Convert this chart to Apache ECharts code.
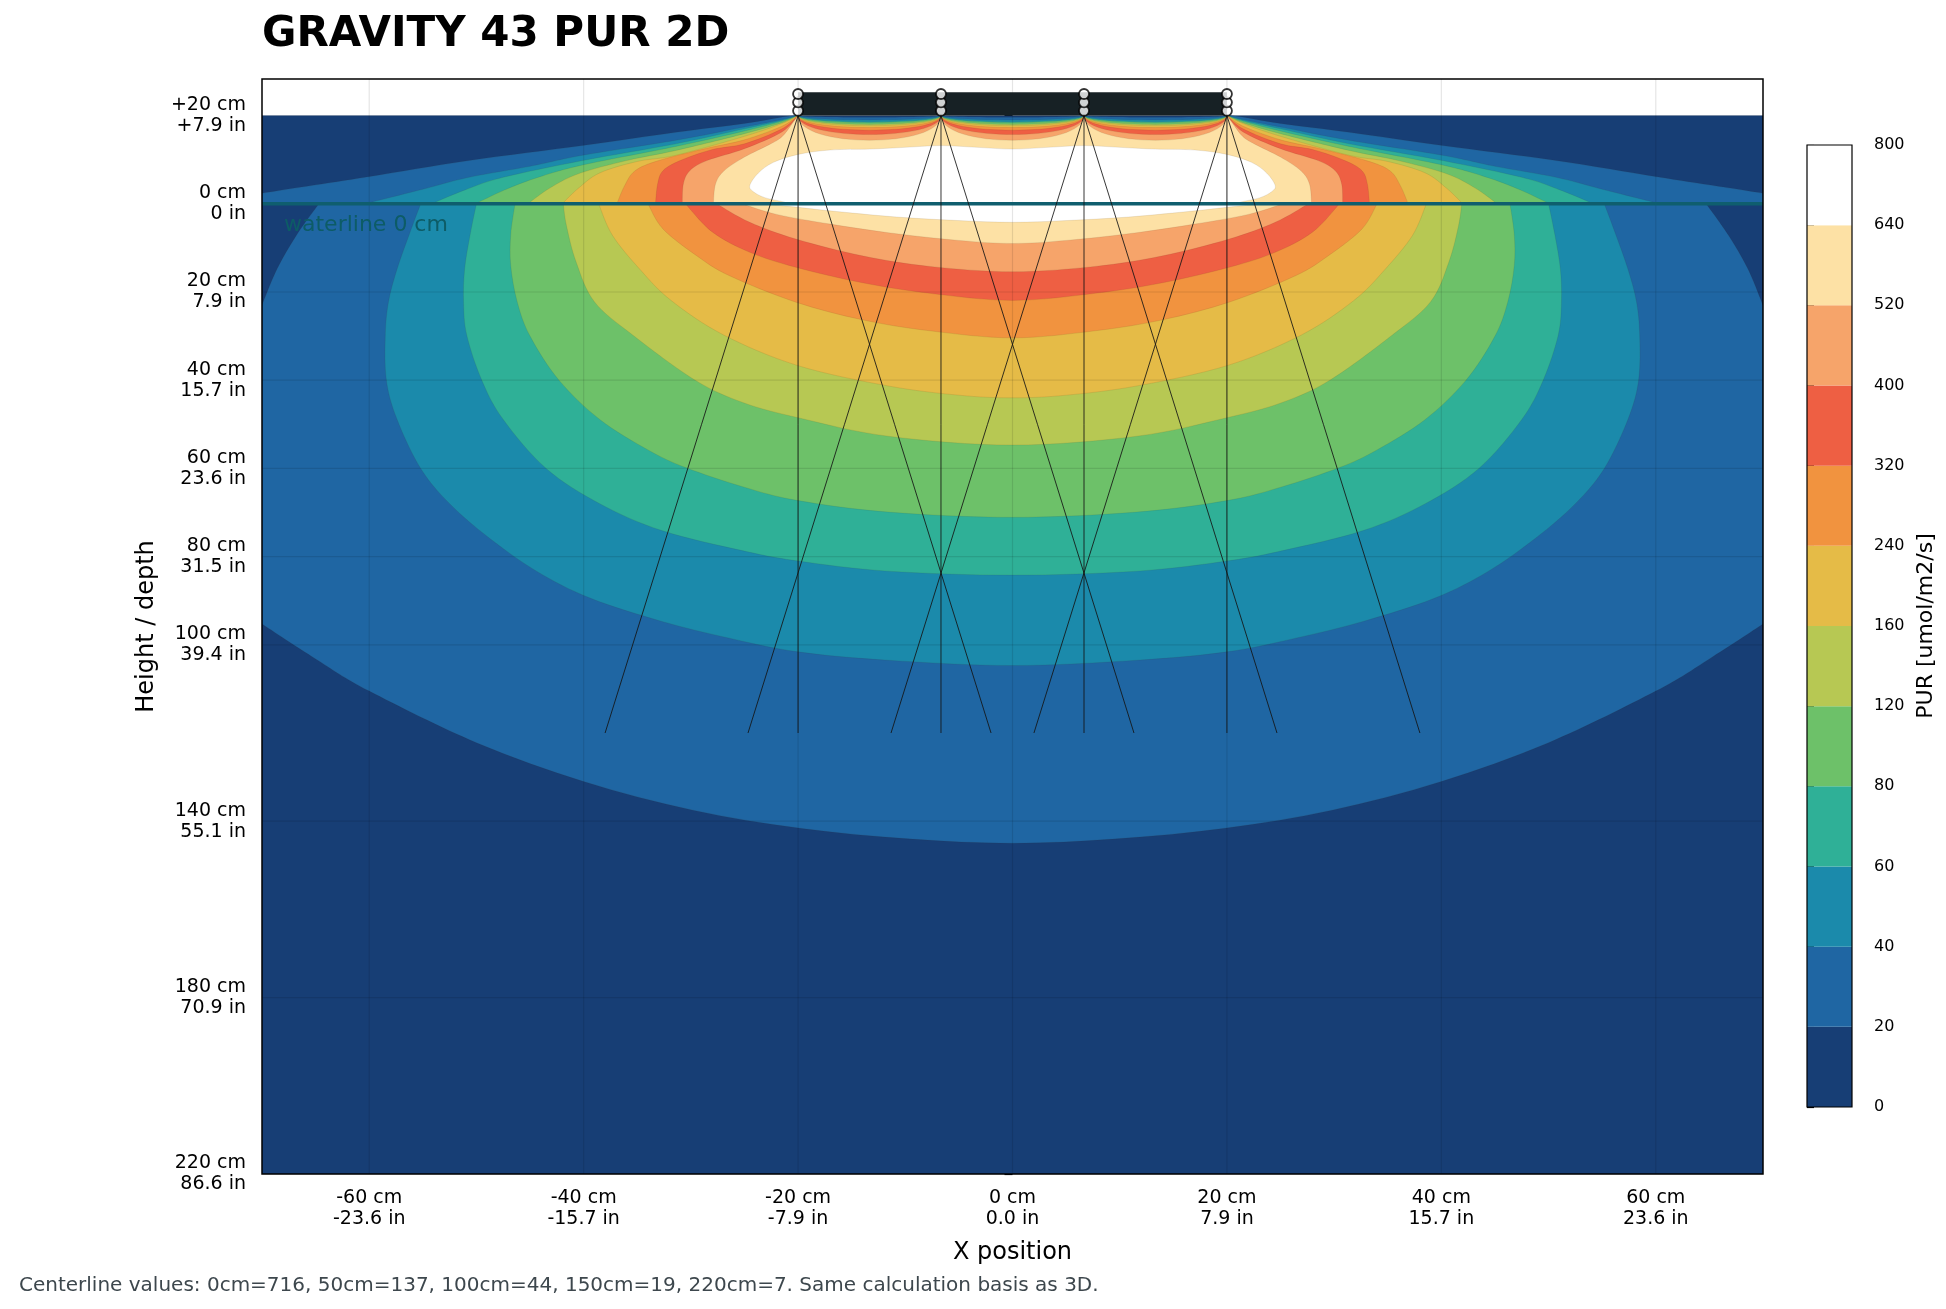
<!DOCTYPE html>
<html>
<head>
<meta charset="utf-8">
<title>GRAVITY 43 PUR 2D</title>
<script src="https://cdn.jsdelivr.net/npm/echarts@6/dist/echarts.min.js"></script>
<style>
  html, body { margin: 0; padding: 0; background: #fff; }
  #chart { width: 1946px; height: 1309px; }
</style>
</head>
<body>
<div id="chart"></div>
<script>
// ticks
var xTicks = [-60, -40, -20, 0, 20, 40, 60];
var yTicks = [20, 0, -20, -40, -60, -80, -100, -140, -180, -220];

// PUR levels of the colour bands, and their colours
var levels = [0, 20, 40, 60, 80, 120, 160, 240, 320, 400, 520, 640, 800];
var bandColors = ['#173e75', '#1f66a3', '#1b8aab', '#2fb097', '#6dc169', '#b7c853',
                  '#e5bb47', '#f1933f', '#ee5f43', '#f6a46a', '#fde1a5', '#ffffff'];

// fixture: four lamps at +20 cm, beam edges reach +-18 cm at -120 cm
var lampX = [-20, -6.67, 6.67, 20];
var lampTop = 20;
var lampMarkY = [21.1, 23.0, 24.9];
var fixtureTop = 25.3;
var beamOffsets = [-18, 0, 18];
var beamEndY = -120;

// contour outlines, left half (x <= 0), [x cm, height cm]
// "Above": from the lamp at -20 down to the waterline, "Below": waterline to centre
var c20Above = [[-21.1, 19.8], [-25, 18.2], [-31.4, 16.2], [-40.1, 13.2], [-50.7, 9.8], [-60.4, 6.0], [-70, 2.4]];
var c20Edge = [[-70, 0]];
var c20Wedge = [[-64.7, 0], [-66.8, -7.2], [-68.6, -14.8], [-70, -23]];
var c20Floor = [[-70, -95.3], [-65, -103.2], [-60, -110.5], [-50, -122.2], [-40, -131],
                [-29.8, -137.5], [-19.8, -141.6], [-9.7, -144], [0, -145]];
var c40Above = [[-21.5, 19.1], [-25, 17.4], [-31.4, 14.4], [-40.1, 11.0], [-45, 8.5], [-50.7, 6.0], [-55, 3.3], [-60.4, 0]];
var c40Below = [[-55.2, 0], [-56.3, -7.2], [-57.4, -14.8], [-58.2, -22.2], [-58.5, -29.8], [-58.4, -40], [-57.4, -48.9],
                [-55.2, -60], [-52.5, -68], [-48.9, -75.6], [-44.4, -83.3], [-39.4, -89.4], [-32.7, -94.7],
                [-26.4, -98.5], [-20, -101.6], [-11.6, -103.5], [0, -104.7]];
var c60Above = [[-21.5, 18.9], [-25, 17.0], [-31.4, 13.6], [-40.1, 9.8], [-47.5, 6.0], [-51, 3.2], [-54.2, 0]];
var c60Below = [[-50, 0], [-50.6, -7.2], [-51.1, -14.8], [-51.2, -22.2], [-50.9, -29.8], [-49.5, -40], [-47.5, -48.9],
                [-43.5, -60], [-38.5, -68], [-32.7, -74.1], [-25.1, -78.7], [-20, -81], [-11.6, -83.3], [0, -84.2]];
var c80Above = [[-21.5, 18.7], [-25, 16.5], [-31.4, 13.0], [-40.1, 8.8], [-44.5, 5.8], [-47.5, 3.0], [-50.1, 0]];
var c80Below = [[-46.4, 0], [-46.8, -7], [-46.8, -14], [-46.2, -22.2], [-45, -30], [-42.3, -40], [-38.5, -48.9],
                [-34, -55.8], [-30.5, -59.8], [-25.1, -64.2], [-20, -67.3], [-11.6, -69.9], [0, -71.1]];
var c120Above = [[-21.5, 18.4], [-25, 15.9], [-31.4, 12.1], [-36, 9.8], [-40.5, 6.8], [-43.2, 3.5], [-45.2, 0]];
var c120Below = [[-41.9, 0], [-41.6, -5], [-40.7, -13.2], [-39, -22.2], [-35.4, -29.8], [-29.6, -40], [-25.1, -45.1],
                 [-20, -48.5], [-11.6, -52.7], [0, -54.7]];
var c160Above = [[-21.5, 18.2], [-25, 15.3], [-31.4, 11.0], [-35, 9.6], [-38.5, 7.0], [-40.5, 3.5], [-42, 0]];
var c160Below = [[-38.6, 0], [-37.3, -7.2], [-34.7, -15], [-31.8, -22], [-26.9, -29.8], [-20, -36.7],
                 [-11.6, -41.3], [-5, -43.4], [0, -44]];
var c240Above = [[-21.5, 17.6], [-25, 14.5], [-28.5, 12.6], [-33, 9.8], [-35.2, 7.5], [-36.2, 4.0], [-36.9, 0]];
var c240Below = [[-34, 0], [-32.6, -5.7], [-29.5, -11.7], [-26.4, -16.3], [-20.2, -22.3], [-14, -26.3], [-7.7, -28.8], [0, -30.4]];
var c320Above = [[-21.5, 17.0], [-25, 13.6], [-28, 12.3], [-31, 9.8], [-32.6, 7.5], [-33.1, 4.5], [-33.3, 0]];
var c320Below = [[-30.5, 0], [-28, -6.4], [-24.5, -11], [-20.2, -14.4], [-14, -17.9], [-7.7, -20.3], [0, -21.9]];
var c400Above = [[-21.5, 16.3], [-25, 12.5], [-28.5, 9.8], [-30.1, 7.5], [-30.7, 4.5], [-30.8, 0]];
var c400Below = [[-27.6, 0], [-24.5, -4.2], [-20.2, -8], [-14, -11.8], [-7.7, -14.2], [0, -15.4]];
var c520Above = [[-20.6, 18], [-21.5, 15.2], [-22.7, 13.4], [-25, 10.6], [-26.9, 7.5], [-27.7, 4.5], [-27.9, 0]];
var c520Below = [[-25.2, 0], [-22, -2.4], [-17, -4.6], [-10.8, -6.8], [-5, -8.3], [0, -9.0]];
// white core: from the centre top round the left tip, then below the waterline
var c640Above = [[0, 12.4], [-3.3, 12.8], [-6.67, 13.2], [-10, 12.8], [-13.3, 12.4], [-17, 12.2], [-20, 11.2],
                 [-22.3, 9.4], [-23.7, 7.0], [-24.5, 4.2], [-24.2, 2.8], [-23.1, 1.4], [-21.3, 0.4], [-21.2, 0]];
var c640Below = [[-23.3, 0], [-20, -0.8], [-17, -1.6], [-10.8, -3.0], [-5, -3.8], [0, -4.2]];
// how far each contour sags below +20 cm between two lamps (20 ... 520)
var topDips = [0.4, 1.0, 1.4, 1.6, 2.0, 2.3, 2.7, 3.3, 4.3, 5.6];

var lamp0 = [lampX[0], lampTop];
var bandRuns = [
    [[lamp0].concat(c20Above), c20Edge, c20Wedge, c20Floor],
    [[lamp0].concat(c40Above), c40Below],
    [[lamp0].concat(c60Above), c60Below],
    [[lamp0].concat(c80Above), c80Below],
    [[lamp0].concat(c120Above), c120Below],
    [[lamp0].concat(c160Above), c160Below],
    [[lamp0].concat(c240Above), c240Below],
    [[lamp0].concat(c320Above), c320Below],
    [[lamp0].concat(c400Above), c400Below],
    [[lamp0].concat(c520Above), c520Below]
];

var FONT = 'DejaVu Sans';

function mirror(pts) {
    return pts.slice().reverse().map(function(p) { return [-p[0], p[1]]; });
}

function f(v) { return v.toFixed(2); }

// one smooth run (Catmull-Rom through the read points), joined to the previous run by a straight line
function runPath(pts, api, first) {
    var p = pts.map(function(q) { return api.coord(q); });
    var s = (first ? 'M' : 'L') + f(p[0][0]) + ' ' + f(p[0][1]) + ' ';
    for (var i = 0; i < p.length - 1; i++) {
        var p0 = p[i - 1] || p[i], p1 = p[i], p2 = p[i + 1], p3 = p[i + 2] || p[i + 1];
        var c1x = p1[0] + (p2[0] - p0[0]) / 6, c1y = p1[1] + (p2[1] - p0[1]) / 6;
        var c2x = p2[0] - (p3[0] - p1[0]) / 6, c2y = p2[1] - (p3[1] - p1[1]) / 6;
        s += 'C' + f(c1x) + ' ' + f(c1y) + ' ' + f(c2x) + ' ' + f(c2y) + ' ' + f(p2[0]) + ' ' + f(p2[1]) + ' ';
    }
    return s;
}

function fullRuns(leftRuns) {
    var head = leftRuns.slice(0, -1);
    var last = leftRuns[leftRuns.length - 1];
    var merged = last.concat(mirror(last).slice(1));
    return head.concat([merged], head.slice().reverse().map(mirror));
}

function depthLabel(v) {
    if (v > 0) return '+' + v + ' cm\n+' + (v / 2.54).toFixed(1) + ' in';
    if (v === 0) return '0 cm\n0 in';
    return (-v) + ' cm\n' + (-v / 2.54).toFixed(1) + ' in';
}

function renderBand(params, api) {
    var k = api.value(2);
    var fill = bandColors[k];
    if (k === 0) {
        var a = api.coord([-70, lampTop]);
        var b = api.coord([70, -220]);
        return { type: 'rect', shape: { x: a[0], y: a[1], width: b[0] - a[0], height: b[1] - a[1] }, style: { fill: fill } };
    }
    var d = '';
    if (k === 11) {
        var topRun = mirror(c640Above).concat(c640Above.slice(1));
        var lowRun = c640Below.concat(mirror(c640Below).slice(1));
        d = runPath(topRun, api, true) + runPath(lowRun, api, false) + 'Z';
    } else {
        var runs = fullRuns(bandRuns[k - 1]);
        runs.forEach(function(r, i) { d += runPath(r, api, i === 0); });
        // sagging arcs between the lamps, right to left
        var sag = topDips[k - 1] * 4 / 3;
        for (var j = lampX.length - 1; j > 0; j--) {
            var c1 = api.coord([lampX[j], lampTop - sag]);
            var c2 = api.coord([lampX[j - 1], lampTop - sag]);
            var e = api.coord([lampX[j - 1], lampTop]);
            d += 'C' + f(c1[0]) + ' ' + f(c1[1]) + ' ' + f(c2[0]) + ' ' + f(c2[1]) + ' ' + f(e[0]) + ' ' + f(e[1]) + ' ';
        }
        d += 'Z';
    }
    return {
        type: 'path',
        shape: { pathData: d },
        style: { fill: fill, stroke: 'rgba(60,40,20,0.16)', lineWidth: 0.6 }
    };
}

function renderGridLines(params, api) {
    var children = [];
    var st = { stroke: 'rgba(0,0,0,0.1)', lineWidth: 1.2 };
    xTicks.forEach(function(v) {
        var a = api.coord([v, 28.3]), b = api.coord([v, -220]);
        children.push({ type: 'line', shape: { x1: a[0], y1: a[1], x2: b[0], y2: b[1] }, style: st });
    });
    yTicks.forEach(function(v) {
        var a = api.coord([-70, v]), b = api.coord([70, v]);
        children.push({ type: 'line', shape: { x1: a[0], y1: a[1], x2: b[0], y2: b[1] }, style: st });
    });
    return { type: 'group', children: children };
}

var beamData = [];
lampX.forEach(function(x) {
    beamOffsets.forEach(function(o) { beamData.push([x, lampTop, x + o, beamEndY]); });
});
var lampData = [];
lampX.forEach(function(x) {
    lampMarkY.forEach(function(y) { lampData.push([x, y]); });
});

var chart = echarts.init(document.getElementById('chart'));

var option = {
    animation: false,
    backgroundColor: '#fff',
    textStyle: { fontFamily: FONT },
    title: [{
        text: 'GRAVITY 43 PUR 2D',
        left: 262, top: 14, padding: 0,
        textStyle: { fontSize: 42, fontWeight: 'bold', color: '#000', fontFamily: FONT }
    }, {
        text: 'Centerline values: 0cm=716, 50cm=137, 100cm=44, 150cm=19, 220cm=7. Same calculation basis as 3D.',
        left: 19, top: 1276, padding: 0,
        textStyle: { fontSize: 20, fontWeight: 'normal', color: '#3d474d', fontFamily: FONT }
    }],
    grid: [
        { left: 262, right: 183, top: 79, bottom: 135, show: true, borderColor: '#000', borderWidth: 1.5,
          backgroundColor: 'transparent', z: 10 },
        { left: 1807, top: 145, width: 45, height: 962, show: true, borderColor: '#000', borderWidth: 1.2,
          backgroundColor: 'transparent', z: 10 }
    ],
    xAxis: [{
        gridIndex: 0, type: 'value', min: -70, max: 70,
        axisLine: { show: false },
        axisTick: { show: true, length: 8, customValues: xTicks, lineStyle: { color: '#000', width: 1.2 } },
        axisLabel: {
            customValues: xTicks, margin: 14, fontSize: 19, lineHeight: 21, color: '#000', fontFamily: FONT,
            formatter: function(v) { return v + ' cm\n' + (v / 2.54).toFixed(1) + ' in'; }
        },
        splitLine: { show: false },
        name: 'X position', nameLocation: 'middle', nameGap: 67,
        nameTextStyle: { fontSize: 24, color: '#000', fontFamily: FONT }
    }, {
        gridIndex: 1, type: 'value', min: 0, max: 1, show: false
    }],
    yAxis: [{
        gridIndex: 0, type: 'value', min: -220, max: 28.3,
        axisLine: { show: false },
        axisTick: { show: true, length: 8, customValues: yTicks, lineStyle: { color: '#000', width: 1.2 } },
        axisLabel: {
            customValues: yTicks, margin: 16, fontSize: 19, lineHeight: 21, color: '#000', fontFamily: FONT,
            formatter: depthLabel
        },
        splitLine: { show: false },
        name: 'Height / depth', nameLocation: 'middle', nameGap: 103, nameRotate: 90,
        nameTextStyle: { fontSize: 24, color: '#000', fontFamily: FONT }
    }, {
        gridIndex: 1, type: 'value', min: 0, max: 12, interval: 1, position: 'right',
        axisLine: { show: false },
        axisTick: { show: true, length: 7, lineStyle: { color: '#000', width: 1.2 } },
        axisLabel: {
            margin: 22, fontSize: 16, color: '#000', fontFamily: FONT,
            formatter: function(v) { return levels[v]; }
        },
        splitLine: { show: false },
        name: 'PUR [umol/m2/s]', nameLocation: 'middle', nameGap: 63, nameRotate: 90,
        nameTextStyle: { fontSize: 22, color: '#000', fontFamily: FONT }
    }],
    graphic: [{
        type: 'text', left: 284, top: 214, z: 20, silent: true,
        style: { text: 'waterline 0 cm', fontSize: 22, fill: '#0d5c66', fontFamily: FONT }
    }],
    series: [{
        name: 'bands', type: 'custom', xAxisIndex: 0, yAxisIndex: 0, clip: true, z: 2, silent: true,
        renderItem: renderBand,
        encode: { x: 0, y: 1 },
        data: bandColors.map(function(c, i) { return [0, 0, i]; })
    }, {
        name: 'grid lines', type: 'custom', xAxisIndex: 0, yAxisIndex: 0, z: 3, silent: true,
        renderItem: renderGridLines, encode: { x: 0, y: 1 }, data: [[0, 0]]
    }, {
        name: 'waterline', type: 'line', xAxisIndex: 0, yAxisIndex: 0, z: 4, silent: true,
        symbol: 'none', data: [[-70, 0], [70, 0]],
        lineStyle: { color: '#0f5e6e', width: 3.5 }
    }, {
        name: 'beams', type: 'custom', xAxisIndex: 0, yAxisIndex: 0, z: 5, silent: true,
        encode: { x: [0, 2], y: [1, 3] },
        renderItem: function(params, api) {
            var a = api.coord([api.value(0), api.value(1)]);
            var b = api.coord([api.value(2), api.value(3)]);
            return { type: 'line', shape: { x1: a[0], y1: a[1], x2: b[0], y2: b[1] },
                     style: { stroke: 'rgba(20,20,20,0.85)', lineWidth: 1 } };
        },
        data: beamData
    }, {
        name: 'fixture', type: 'custom', xAxisIndex: 0, yAxisIndex: 0, z: 6, silent: true,
        encode: { x: 0, y: 1 },
        renderItem: function(params, api) {
            var a = api.coord([lampX[0], fixtureTop]);
            var b = api.coord([lampX[lampX.length - 1], lampTop]);
            return { type: 'rect', shape: { x: a[0], y: a[1], width: b[0] - a[0], height: b[1] - a[1] },
                     style: { fill: '#172125' } };
        },
        data: [[0, lampTop]]
    }, {
        name: 'lamps', type: 'scatter', xAxisIndex: 0, yAxisIndex: 0, z: 7, silent: true,
        symbol: 'circle', symbolSize: 10,
        itemStyle: { color: '#fff', borderColor: '#000', borderWidth: 1.8 },
        data: lampData
    }, {
        name: 'colorbar', type: 'custom', xAxisIndex: 1, yAxisIndex: 1, z: 2, silent: true,
        encode: { x: 0, y: 1 },
        renderItem: function(params, api) {
            var i = api.value(2);
            var a = api.coord([0, i + 1]);
            var b = api.coord([1, i]);
            return { type: 'rect', shape: { x: a[0], y: a[1], width: b[0] - a[0], height: b[1] - a[1] },
                     style: { fill: bandColors[i] } };
        },
        data: bandColors.map(function(c, i) { return [0.5, i + 0.5, i]; })
    }]
};

chart.setOption(option);
</script>
</body>
</html>
